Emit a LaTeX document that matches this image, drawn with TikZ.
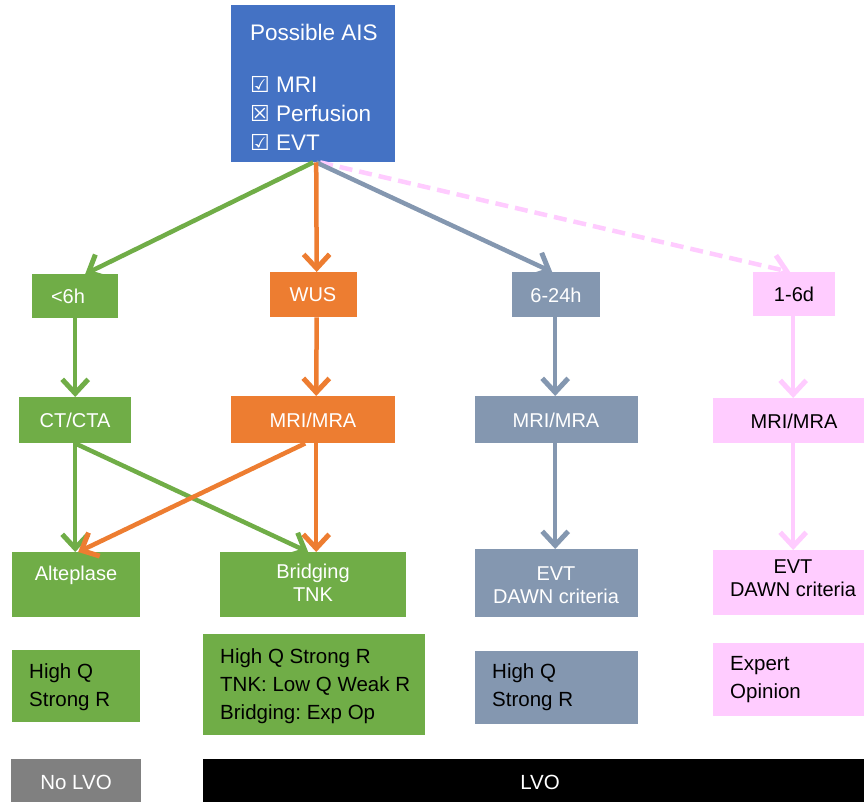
\documentclass[tikz,border=0pt]{standalone}
\usepackage{fontspec}
\setmainfont{Liberation Sans}
\newfontfamily\symfont{DejaVu Sans}
\usetikzlibrary{arrows.meta}
\frenchspacing
\definecolor{cblue}{HTML}{4472C4}
\definecolor{cgreen}{HTML}{70AD47}
\definecolor{corange}{HTML}{ED7D31}
\definecolor{cslate}{HTML}{8497B0}
\definecolor{cpink}{HTML}{FFCCFF}
\definecolor{cgrey}{HTML}{808080}
\tikzset{
  box/.style={rectangle, inner sep=0pt, anchor=north west},
  wt/.style={text=white, font=\fontsize{20}{23}\selectfont, align=center, inner sep=0pt},
  bt/.style={text=black, font=\fontsize{20}{23}\selectfont, align=center, inner sep=0pt},
  lt/.style={text=black, font=\fontsize{20.5}{28}\selectfont, align=left, anchor=west, inner sep=0pt},
  flow/.style={line width=4.5pt, -{Straight Barb[length=14pt,width=26pt,line width=5pt]}},
}
\begin{document}
\begin{tikzpicture}[x=1pt,y=-1pt]
\useasboundingbox (0,0) rectangle (864,802);

% top node
\node[box, fill=cblue, minimum width=164, minimum height=157] (ais) at (231,5) {};
\node[wt, font=\fontsize{22.5}{26}\selectfont] (aist) at (314,32) {Possible AIS};
\node[wt, anchor=west, font=\fontsize{22.5}{26}\selectfont] (c1) at (250,84) {{\symfont\fontsize{22}{22}\selectfont ☑} MRI};
\node[wt, anchor=west, font=\fontsize{22.5}{26}\selectfont] (c2) at (250,113) {{\symfont\fontsize{22}{22}\selectfont ☒} Perfusion};
\node[wt, anchor=west, font=\fontsize{22.5}{26}\selectfont] (c3) at (250,142) {{\symfont\fontsize{22}{22}\selectfont ☑} EVT};

% time windows
\node[box, fill=cgreen, minimum width=86, minimum height=44] (lt6) at (32,274) {};
\node[wt] at (68,296) {<6h};
\node[box, fill=corange, minimum width=87, minimum height=45] (wus) at (270,272) {};
\node[wt] at (313,295) {WUS};
\node[box, fill=cslate, minimum width=88, minimum height=45] (h24) at (512,272) {};
\node[wt] at (556,295) {6-24h};
\node[box, fill=cpink, minimum width=82, minimum height=44] (d16) at (753,272) {};
\node[bt] at (794,294) {1-6d};

% imaging
\node[box, fill=cgreen, minimum width=112, minimum height=46] (cta) at (19,397) {};
\node[wt] at (75,420) {CT/CTA};
\node[box, fill=corange, minimum width=164, minimum height=47] (mrio) at (231,396) {};
\node[wt] at (313,420) {MRI/MRA};
\node[box, fill=cslate, minimum width=163, minimum height=47] (mris) at (475,396) {};
\node[wt] at (556,420) {MRI/MRA};
\node[box, fill=cpink, minimum width=151, minimum height=45] (mrip) at (713,398) {};
\node[bt] at (794,421) {MRI/MRA};

% treatments
\node[box, fill=cgreen, minimum width=128, minimum height=65] (alte) at (12,552) {};
\node[wt] at (76,575) {Alteplase};
\node[box, fill=cgreen, minimum width=186, minimum height=65] (brid) at (220,552) {};
\node[wt] at (313,583) {Bridging\\TNK};
\node[box, fill=cslate, minimum width=163, minimum height=68] (evts) at (475,549) {};
\node[wt] at (556,585) {EVT\\DAWN criteria};
\node[box, fill=cpink, minimum width=151, minimum height=65] (evtp) at (713,550) {};
\node[bt] at (793,578) {EVT\\DAWN criteria};

% evidence
\node[box, fill=cgreen, minimum width=128, minimum height=72] (ev1) at (12,650) {};
\node[lt] at (29,687) {High Q\\Strong R};
\node[box, fill=cgreen, minimum width=222, minimum height=101] (ev2) at (203,634) {};
\node[lt] at (220,686) {High Q Strong R\\TNK: Low Q Weak R\\Bridging: Exp Op};
\node[box, fill=cslate, minimum width=163, minimum height=73] (ev3) at (475,651) {};
\node[lt] at (492,687) {High Q\\Strong R};
\node[box, fill=cpink, minimum width=151, minimum height=73] (ev4) at (713,643) {};
\node[lt] at (730,680) {Expert\\Opinion};

% vessel status bar
\node[box, fill=cgrey, minimum width=130, minimum height=43] (nolvo) at (11,759) {};
\node[wt, font=\fontsize{20.5}{23}\selectfont] at (76,782) {No LVO};
\node[box, fill=black, minimum width=661, minimum height=43] (lvo) at (203,759) {};
\node[wt, font=\fontsize{20.5}{23}\selectfont] at (540,782) {LVO};

% connectors
\draw[flow, draw=cpink, dash pattern=on 13pt off 7pt] ([xshift=7pt]ais.south) -- ([xshift=-4pt]d16.north);
\draw[flow, draw=cslate] ([xshift=3pt]ais.south) -- ([xshift=-4pt]h24.north);
\draw[flow, draw=cgreen] (ais.south) -- ([xshift=10pt]lt6.north);
\draw[flow, draw=corange] ([xshift=3pt]ais.south) -- ([xshift=3pt]wus.north);

\draw[flow, draw=cgreen] (lt6.south) -- (cta.north);
\draw[flow, draw=corange] ([xshift=3pt]wus.south) -- ([xshift=3pt]mrio.north);
\draw[flow, draw=cslate] ([xshift=-1pt]h24.south) -- ([xshift=-1.5pt]mris.north);
\draw[flow, draw=cpink] ([xshift=-1pt]d16.south) -- ([xshift=4.5pt]mrip.north);

\draw[flow, draw=cgreen] (cta.south) -- ([xshift=-1pt]alte.north);
\draw[flow, draw=cgreen] (cta.south) -- ([xshift=-5pt]brid.north);
\draw[flow, draw=corange] ([xshift=-8pt]mrio.south) -- ([xshift=2pt]alte.north);
\draw[flow, draw=corange] ([xshift=3pt]mrio.south) -- ([xshift=3pt]brid.north);
\draw[flow, draw=cslate] ([xshift=-1.5pt]mris.south) -- ([xshift=-1.5pt]evts.north);
\draw[flow, draw=cpink] ([xshift=4.5pt]mrip.south) -- ([xshift=4.5pt]evtp.north);
\end{tikzpicture}
\end{document}
